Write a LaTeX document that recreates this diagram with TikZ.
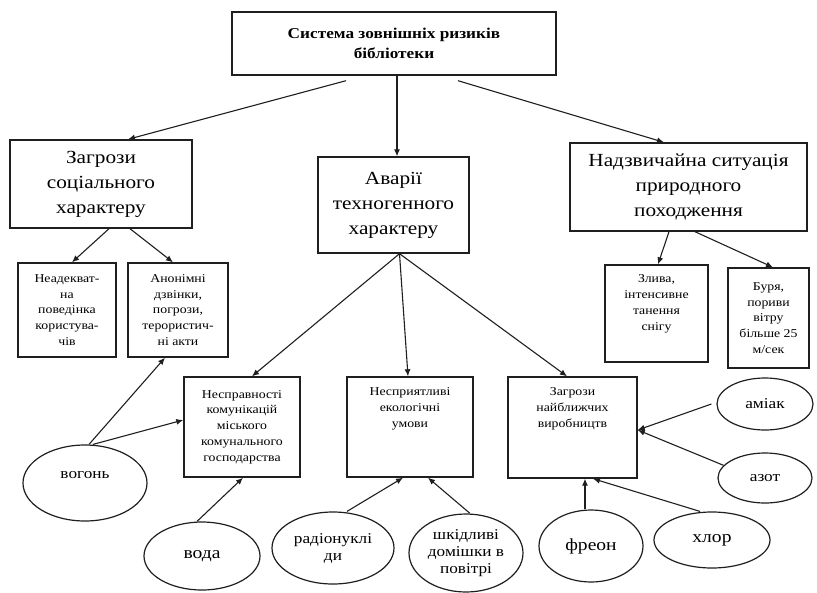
\documentclass[tikz,border=0pt]{standalone}
\usepackage{fontspec}
\setmainfont{Liberation Serif}
\newfontfamily\widefont[FakeStretch=1.15]{Liberation Serif}
\usetikzlibrary{shapes.geometric,arrows.meta}
\definecolor{ink}{gray}{0.12}
\tikzset{
  box/.style={draw=ink, line width=1.4pt, inner sep=0pt},
  ell/.style={ellipse, draw=ink, line width=1.2pt, inner sep=0pt, align=center, font=\widefont\fontsize{15}{17}\selectfont},
  ellbig/.style={ell, font=\widefont\fontsize{17}{19}\selectfont},
  big/.style={align=center, font=\widefont\fontsize{18.5}{25}\selectfont},
  small/.style={align=center, font=\widefont\fontsize{12}{15.8}\selectfont},
  arr/.style={draw=ink, line width=1.1pt, -{Latex[length=7pt,width=6pt]}},
}
\begin{document}
\begin{tikzpicture}[x=1pt,y=-1pt]
\useasboundingbox[fill=white] (0,0) rectangle (817,592);

% top
\node[box, minimum width=324pt, minimum height=63pt, align=center,
  font=\widefont\fontsize{15}{20}\selectfont\bfseries] (top) at (394,43.5)
  {Система зовнішніх ризиків\\бібліотеки};

% second level
\node[box, minimum width=182pt, minimum height=88pt, big] (soc) at (101,184)
  {Загрози\\соціального\\характеру};
\node[box, minimum width=151pt, minimum height=96pt, big] (avar) at (393.5,205)
  {Аварії\\техногенного\\характеру};
\node[box, minimum width=237pt, minimum height=88pt, big] (nat) at (688.5,187)
  {Надзвичайна ситуація\\природного\\походження};

% third level small boxes
\node[box, minimum width=98pt, minimum height=94pt, small] (nead) at (67,310)
  {Неадекват-\\на\\поведінка\\користува-\\чів};
\node[box, minimum width=100pt, minimum height=94pt, small] (anon) at (178,310)
  {Анонімні\\дзвінки,\\погрози,\\терористич-\\ні акти};
\node[box, minimum width=103pt, minimum height=97pt] (zlyva) at (656.5,313.5) {};
\node[small, anchor=north] (zlyvat) at ([yshift=-7pt]zlyva.north)
  {Злива,\\інтенсивне\\танення\\снігу};
\node[box, minimum width=81pt, minimum height=100pt, small] (burya) at (768.5,318)
  {Буря,\\пориви\\вітру\\більше 25\\м/сек};

\node[box, minimum width=116pt, minimum height=100pt, small] (nesp1) at (242,427)
  {Несправності\\комунікацій\\міського\\комунального\\господарства};
\node[box, minimum width=126pt, minimum height=100pt] (nesp2) at (410,427) {};
\node[small, anchor=north] (nesp2t) at ([yshift=-8pt]nesp2.north)
  {Несприятливі\\екологічні\\умови};
\node[box, minimum width=129pt, minimum height=101pt] (nesp3) at (572.5,427.5) {};
\node[small, anchor=north] (nesp3t) at ([yshift=-8pt]nesp3.north)
  {Загрози\\найближчих\\виробництв};

% ellipses
\node[ell, minimum width=124pt, minimum height=76pt] (vogon) at (85,483) {};
\node[ell, draw=none] (vogont) at ([yshift=8pt]vogon.center) {вогонь};
\node[ellbig, minimum width=116pt, minimum height=68pt] (voda) at (202,556) {вода};
\node[ell, minimum width=122pt, minimum height=72pt] (radio) at (333,548) {радіонуклі\\ди};
\node[ell, minimum width=114pt, minimum height=78pt] (shkid) at (466,553) {шкідливі\\домішки в\\повітрі};
\node[ellbig, minimum width=104pt, minimum height=72pt] (freon) at (591,546) {фреон};
\node[ellbig, minimum width=116pt, minimum height=56pt] (hlor) at (712,540) {хлор};
\node[ell, minimum width=96pt, minimum height=52pt] (amiak) at (765,404) {аміак};
\node[ell, minimum width=94pt, minimum height=50pt] (azot) at (765,478) {азот};

% connectors
\draw[arr] ([xshift=-48pt,yshift=-5pt]top.south) -- ([xshift=27pt]soc.north);
\draw[arr] ([xshift=3pt]top.south) -- ([xshift=3.5pt]avar.north);
\draw[arr] ([xshift=64pt,yshift=-5pt]top.south) -- ([xshift=-24.5pt]nat.north);

\draw[arr] ([xshift=8pt]soc.south) -- ([xshift=5pt]nead.north);
\draw[arr] ([xshift=29pt]soc.south) -- ([xshift=-5pt]anon.north);

\draw[arr] ([xshift=-19.5pt]nat.south) -- ([xshift=1.5pt]zlyva.north);
\draw[arr] ([xshift=6.5pt]nat.south) -- ([xshift=4.5pt]burya.north);

\draw[arr] ([xshift=6pt]avar.south) -- ([xshift=10pt]nesp1.north);
\draw[arr] ([xshift=6pt]avar.south) -- ([xshift=-2pt]nesp2.north);
\draw[arr] ([xshift=6pt]avar.south) -- ([xshift=-5.5pt]nesp3.north);

\draw[arr] ([xshift=4pt]vogon.north) -- ([xshift=-13pt]anon.south);
\draw[arr] ([xshift=8pt]vogon.north) -- ([yshift=7pt]nesp1.west);
\draw[arr] ([xshift=-5pt]voda.north) -- ([xshift=1pt]nesp1.south);
\draw[arr] ([xshift=14pt]radio.north) -- ([xshift=-7pt]nesp2.south);
\draw[arr] ([xshift=4pt]shkid.north) -- ([xshift=18pt]nesp2.south);
\draw[arr] ([xshift=-6pt]freon.north) -- ([xshift=12.5pt]nesp3.south);
\draw[arr] ([xshift=-12pt]hlor.north) -- ([xshift=20.5pt]nesp3.south);
\draw[arr] ([xshift=-5pt]amiak.west) -- ([yshift=-2.5pt]nesp3.east);
\draw[arr] (azot.163) -- ([yshift=-2.5pt]nesp3.east);
\end{tikzpicture}
\end{document}
